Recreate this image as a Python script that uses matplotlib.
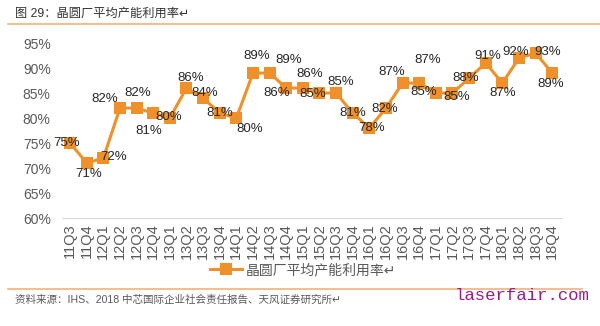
import matplotlib.pyplot as plt
from matplotlib.lines import Line2D

plt.rcParams["font.family"] = ["Liberation Sans", "Noto Sans CJK SC", "DejaVu Sans"]

QUARTERS = [
    "11Q3", "11Q4",
    "12Q1", "12Q2", "12Q3", "12Q4",
    "13Q1", "13Q2", "13Q3", "13Q4",
    "14Q1", "14Q2", "14Q3", "14Q4",
    "15Q1", "15Q2", "15Q3", "15Q4",
    "16Q1", "16Q2", "16Q3", "16Q4",
    "17Q1", "17Q2", "17Q3", "17Q4",
    "18Q1", "18Q2", "18Q3", "18Q4",
]
UTILIZATION = [
    75, 71,
    72, 82, 82, 81,
    80, 86, 84, 81,
    80, 89, 89, 86,
    86, 85, 85, 81,
    78, 82, 87, 87,
    85, 85, 88, 91,
    87, 92, 93, 89,
]
Y_TICKS = [60, 65, 70, 75, 80, 85, 90, 95]

TITLE = "图 29：晶圆厂平均产能利用率"
SERIES_NAME = "晶圆厂平均产能利用率"
SOURCE = "资料来源：IHS、2018 中芯国际企业社会责任报告、天风证券研究所"
WATERMARK = "laserfair.com"

# label placement around each marker, in pixels (right, down)
LABEL_SHIFT = [
    (-3, 0), (2, 11),
    (10, -1), (-15, -9), (1, -15), (-4, 18),
    (-1, -1), (4, -10), (2, -5), (0, 0),
    (13, 11), (4, -17), (19, -13), (-10, 5),
    (7, -14), (-7, 1), (5, -11), (0, 0),
    (2, 0), (-1, 1), (-11, -11), (8, -23),
    (-12, -1), (4, 4), (-3, 0), (2, -7),
    (0, 10), (-3, -6), (12, -1), (-2, 11),
]

ORANGE = "#F0902A"
RULE = "#F5B27A"
GRAY = "#595959"


def main():
    fig = plt.figure(figsize=(6.0, 3.26), dpi=100)
    ax = fig.add_axes([0.103, 0.331, 0.834, 0.537])

    xs = list(range(len(QUARTERS)))
    ax.plot(
        xs, UTILIZATION,
        color=ORANGE, linewidth=2.2,
        marker="s", markersize=8, markeredgewidth=0,
        zorder=3,
    )

    px = 0.72  # points per pixel at 100 dpi
    for x, v, (dx, dy) in zip(xs, UTILIZATION, LABEL_SHIFT):
        ax.annotate(
            f"{v}%", (x, v),
            xytext=(dx * px, -dy * px), textcoords="offset points",
            ha="center", va="center", fontsize=9.5, color="#262626",
            zorder=4,
        )

    ax.set_xlim(-0.5, len(QUARTERS) - 0.4)
    ax.set_ylim(60, 95)
    ax.set_yticks(Y_TICKS)
    ax.set_yticklabels([f"{t}%" for t in Y_TICKS])
    ax.set_xticks(xs)
    ax.set_xticklabels(QUARTERS, rotation=90)
    ax.tick_params(axis="both", length=0, labelcolor=GRAY)
    ax.tick_params(axis="y", pad=8, labelsize=10)
    ax.tick_params(axis="x", pad=4, labelsize=10.5)

    for side in ("top", "right", "left"):
        ax.spines[side].set_visible(False)
    ax.spines["bottom"].set_color("#D9D9D9")
    ax.spines["bottom"].set_linewidth(0.8)

    # header, rules, legend and footer
    fig.text(0.025, 0.957, TITLE + "\u21b5", fontsize=8.8, color="#333333",
             va="center", ha="left")
    fig.add_artist(Line2D([0.013, 1.0], [0.926, 0.926], color=RULE,
                          linewidth=1.2, transform=fig.transFigure))

    handle = Line2D([], [], color=ORANGE, linewidth=2.2, marker="s",
                    markersize=8, markeredgewidth=0)
    fig.legend([handle], [SERIES_NAME + "\u21b5"], loc="center",
               bbox_to_anchor=(0.505, 0.172), frameon=False, fontsize=10,
               handlelength=2.3, handletextpad=0.3, labelcolor=GRAY)

    fig.add_artist(Line2D([0.013, 0.97], [0.113, 0.113], color=RULE,
                          linewidth=1.2, transform=fig.transFigure))
    fig.text(0.025, 0.08, SOURCE + "\u21b5", fontsize=7.6, color=GRAY,
             va="center", ha="left")
    fig.text(0.758, 0.095, WATERMARK, fontsize=12.5, color="#9C1A8C",
             family="Liberation Mono", va="center", ha="left")

    fig.savefig("out.png", dpi=100)


if __name__ == "__main__":
    main()
